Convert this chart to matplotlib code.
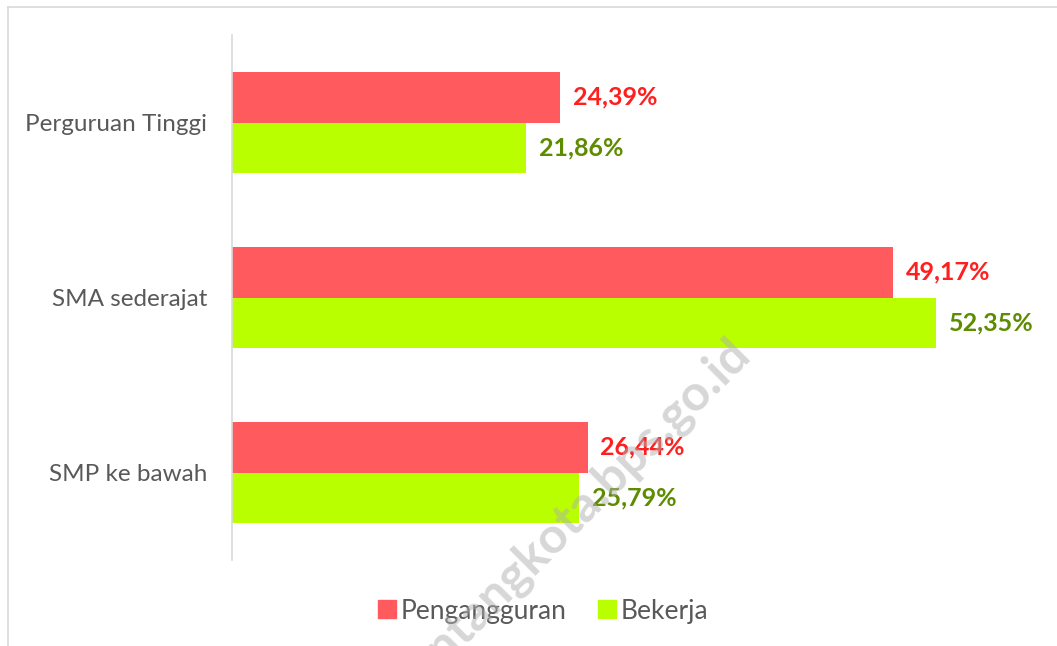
import matplotlib
matplotlib.use("Agg")
import matplotlib.pyplot as plt
from matplotlib.lines import Line2D
import numpy as np

plt.rcParams['font.family'] = ['Lato', 'DejaVu Sans']

categories = ["SMP ke bawah", "SMA sederajat", "Perguruan Tinggi"]
pengangguran = [26.44, 49.17, 24.39]
bekerja = [25.79, 52.35, 21.86]
series_names = ["Pengangguran", "Bekerja"]
value_labels_p = ["26,44%", "49,17%", "24,39%"]
value_labels_b = ["25,79%", "52,35%", "21,86%"]

red = "#FF5B5E"
green = "#B9FF00"
red_txt = "#FF1F1F"
green_txt = "#5E8C00"

W, H = 1057, 646
fig = plt.figure(figsize=(W / 100, H / 100), dpi=100)
ax = fig.add_axes([232 / W, 1 - 560 / H, (1039 - 232) / W, (560 - 35) / H])

y = np.arange(len(categories))
h = 0.29
ax.barh(y + h / 2, pengangguran, height=h, color=red, label=series_names[0])
ax.barh(y - h / 2, bekerja, height=h, color=green, label=series_names[1])

for yi, v, t in zip(y, pengangguran, value_labels_p):
    ax.text(v + 0.95, yi + h / 2, t, color=red_txt, fontsize=18, fontweight='bold',
            va='center', ha='left')
for yi, v, t in zip(y, bekerja, value_labels_b):
    ax.text(v + 0.95, yi - h / 2, t, color=green_txt, fontsize=18, fontweight='bold',
            va='center', ha='left')

ax.set_xlim(0, 60)
ax.set_ylim(-0.5, 2.5)
ax.set_yticks(y)
ax.set_yticklabels(categories, fontsize=17.5, color="#595959")
ax.tick_params(axis='y', length=0, pad=18)
ax.set_xticks([])
for s in ['top', 'right', 'bottom']:
    ax.spines[s].set_visible(False)
ax.spines['left'].set_color("#D9D9D9")
ax.spines['left'].set_linewidth(1.2)

handles = [Line2D([], [], marker='s', linestyle='', markersize=12.5, color=red),
           Line2D([], [], marker='s', linestyle='', markersize=12.5, color=green)]
fig.legend(handles, series_names, loc='center', bbox_to_anchor=(541 / W, 1 - 611 / H),
           ncol=2, frameon=False, fontsize=19, labelcolor="#595959",
           handletextpad=0.05, columnspacing=1.0, handlelength=1.0)

# figure frame (left and top edges)
fig.add_artist(Line2D([8 / W, 8 / W], [0, 1 - 7 / H], transform=fig.transFigure,
                      color="#D9D9D9", lw=1.2))
fig.add_artist(Line2D([8 / W, 1], [1 - 7 / H, 1 - 7 / H], transform=fig.transFigure,
                      color="#D9D9D9", lw=1.2))

# watermark
fig.text(752 / W, 1 - 356 / H, "bontangkota.bps.go.id", rotation=45,
         rotation_mode='anchor', ha='right', va='baseline', fontsize=36,
         fontweight='bold', color="#AFAFAF", alpha=0.5, zorder=10)

fig.savefig("out.png", dpi=100)
